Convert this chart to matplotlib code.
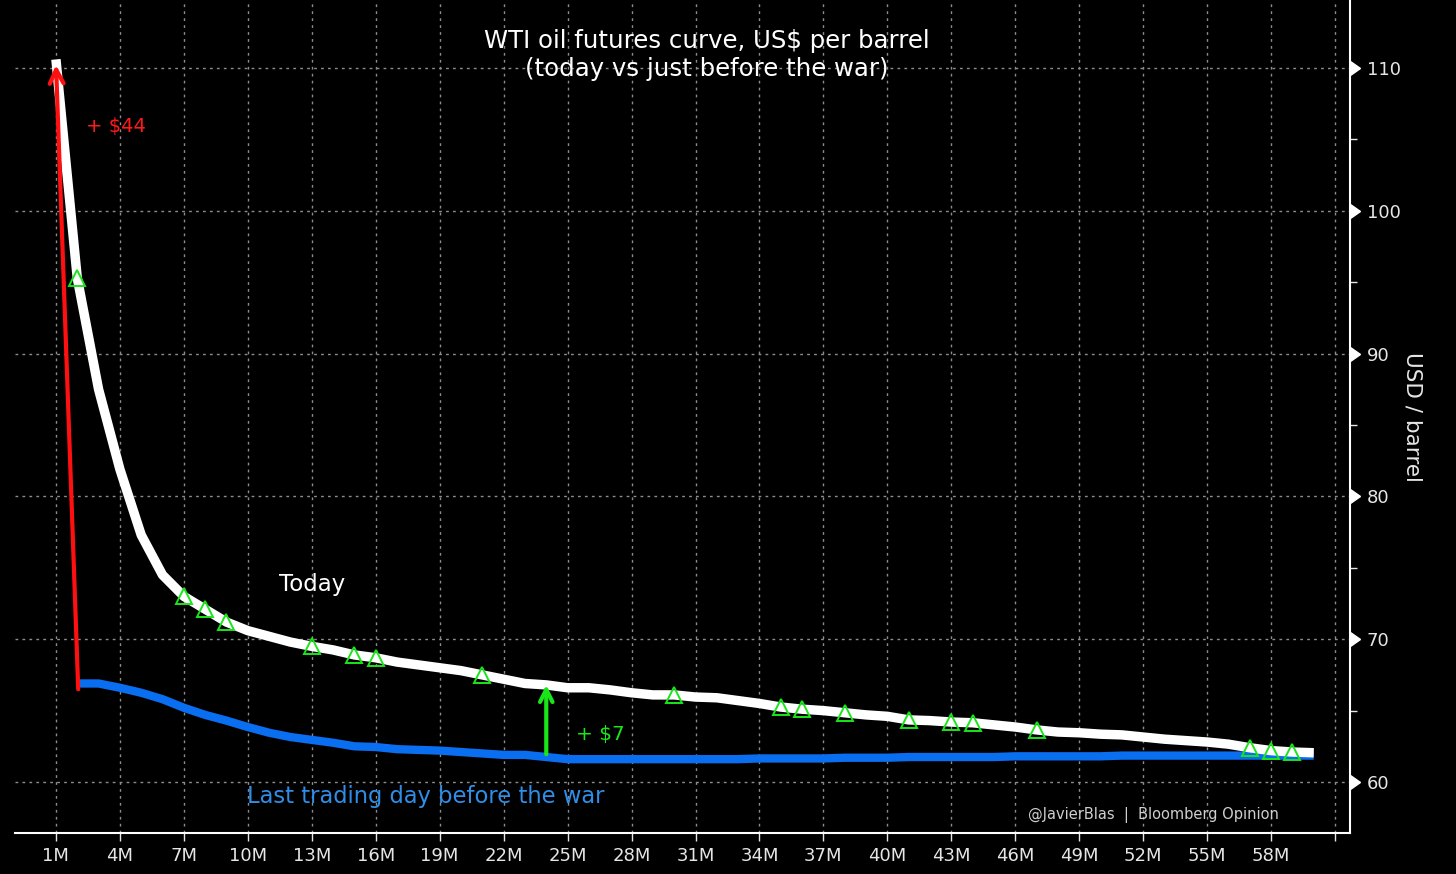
import numpy as np
import matplotlib
matplotlib.use("Agg")
import matplotlib.pyplot as plt
from matplotlib.ticker import MultipleLocator

# contract month (1 = front month) and settlement prices, US$ per barrel
months_today = list(range(1, 61))
today = [110.6, 95.3, 87.5, 81.9, 77.3, 74.5, 73.0, 72.1, 71.2, 70.6,
         70.2, 69.8, 69.5, 69.25, 68.9, 68.7, 68.4, 68.2, 68.0, 67.8,
         67.5, 67.2, 66.9, 66.8, 66.6, 66.6, 66.45, 66.25, 66.1, 66.1,
         65.95, 65.9, 65.7, 65.5, 65.25, 65.1, 65.0, 64.85, 64.7, 64.6,
         64.35, 64.3, 64.2, 64.15, 64.0, 63.85, 63.65, 63.5, 63.45, 63.35,
         63.3, 63.15, 63.0, 62.9, 62.8, 62.65, 62.4, 62.2, 62.1, 62.05]

months_before = list(range(2, 61))
before_war = [66.9, 66.9, 66.6, 66.25, 65.8, 65.2, 64.7, 64.3, 63.85, 63.45,
              63.15, 62.95, 62.75, 62.5, 62.45, 62.3, 62.25, 62.2, 62.1, 62.0,
              61.9, 61.9, 61.75, 61.6, 61.6, 61.6, 61.6, 61.6, 61.6, 61.6,
              61.6, 61.6, 61.65, 61.65, 61.65, 61.65, 61.7, 61.7, 61.7, 61.75,
              61.75, 61.75, 61.75, 61.75, 61.8, 61.8, 61.8, 61.8, 61.8, 61.85,
              61.85, 61.85, 61.85, 61.85, 61.85, 61.85, 61.85, 61.85, 61.85]

# months flagged with green triangles on today's curve
flagged = [2, 7, 8, 9, 13, 15, 16, 21, 30, 35, 36, 38, 41, 43, 44, 47, 57, 58, 59]

tick_months = list(range(1, 62, 3))
tick_labels = [f"{m}M" for m in tick_months[:-1]] + [""]

BG = "black"
GRID = "#8c8c8c"
TXT = "#e6e6e6"
BLUE = "#0a6ef0"
GREEN = "#19e619"

plt.rcParams['font.family'] = ['DejaVu Sans']

fig = plt.figure(figsize=(14.56, 8.74), dpi=100, facecolor=BG)
ax = fig.add_axes([15 / 1456, 41 / 874, 1335 / 1456, 833 / 874])
ax.set_facecolor(BG)

ax.plot(months_before, before_war, color=BLUE, lw=6, solid_capstyle='butt', zorder=3)
ax.plot(months_today, today, color="white", lw=6.8, solid_capstyle='butt', zorder=4)

idx = [months_today.index(m) for m in flagged]
ax.plot([months_today[i] for i in idx], [today[i] for i in idx], ls='none',
        marker='^', ms=12, mfc='none', mec=GREEN, mew=1.4, zorder=5)

# arrows showing the change
ax.annotate("", xy=(1, 110.4), xytext=(2.05, 66.3),
            arrowprops=dict(arrowstyle="->,head_length=1.0,head_width=0.5",
                            color="#ff1010", lw=3), zorder=6)
ax.annotate("", xy=(24, 67.0), xytext=(24, 61.75),
            arrowprops=dict(arrowstyle="->,head_length=0.9,head_width=0.45",
                            color=GREEN, lw=3), zorder=6)

ax.text(2.4, 105.9, "+ $44", color="#ff1a1a", fontsize=14, va='center')
ax.text(25.4, 63.3, "+ $7", color=GREEN, fontsize=14.5, va='center')
ax.text(11.45, 73.8, "Today", color="white", fontsize=16.5, va='center')
ax.text(9.96, 59.0, "Last trading day before the war", color="#2f8fe8",
        fontsize=16.3, va='center')
ax.text(0.518, 0.934, "WTI oil futures curve, US$ per barrel\n(today vs just before the war)",
        transform=ax.transAxes, color="white", fontsize=17.6, ha='center', va='center',
        linespacing=1.22)
ax.text(0.853, 0.0216, "@JavierBlas  |  Bloomberg Opinion", transform=ax.transAxes,
        color="#cfcfcf", fontsize=10.5, ha='center', va='center')

ax.set_xlim(-0.92, 61.7)
ax.set_ylim(56.43, 114.76)

ax.set_xticks(tick_months)
ax.set_xticklabels(tick_labels)
ax.yaxis.tick_right()
ax.yaxis.set_label_position("right")
ax.set_yticks(range(60, 111, 10))
ax.yaxis.set_minor_locator(MultipleLocator(5))

ax.tick_params(axis='x', colors=TXT, labelcolor=TXT, labelsize=13, length=6,
               width=1, direction='out', pad=4)
ax.tick_params(axis='y', which='major', length=0, labelcolor=TXT, labelsize=13, pad=12)
ax.tick_params(axis='y', which='minor', length=5, width=1, colors=TXT)

# triangular major tick marks on the right spine
ax.plot([1] * 6, list(range(60, 111, 10)), ls='none', marker=9, ms=10, color="white",
        transform=ax.get_yaxis_transform(), clip_on=False, zorder=7)

ax.set_ylabel("USD / barrel", color=TXT, fontsize=15.5, rotation=-90, labelpad=16)

ax.grid(True, which='major', color=GRID, lw=1, ls=(0, (2, 3)))
for side in ['left', 'top']:
    ax.spines[side].set_visible(False)
for side in ['right', 'bottom']:
    ax.spines[side].set_color("white")
    ax.spines[side].set_linewidth(1.5)

fig.savefig("out.png", dpi=100, facecolor=BG)
